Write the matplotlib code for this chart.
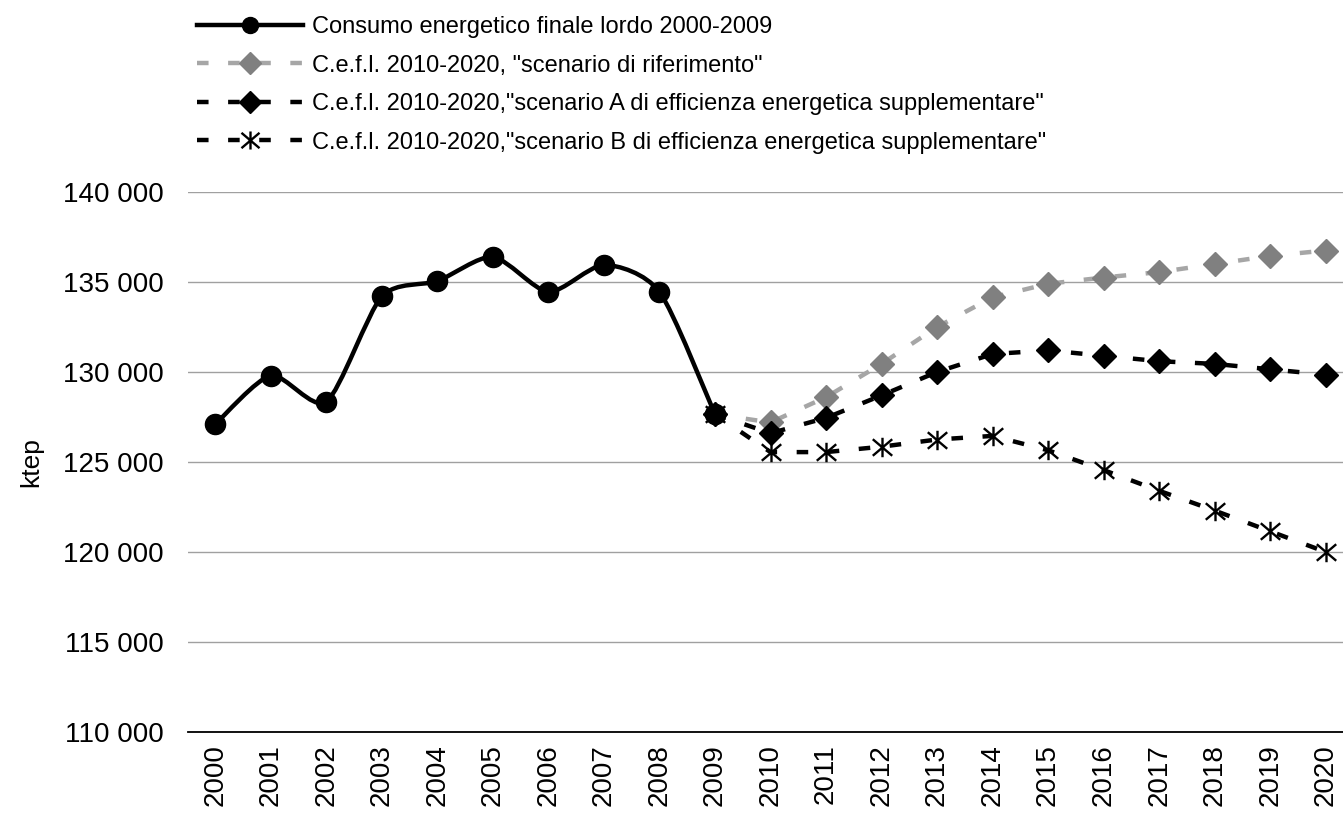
import numpy as np
import matplotlib
matplotlib.use('Agg')
import matplotlib.pyplot as plt
from matplotlib.path import Path
from matplotlib.patches import PathPatch
from matplotlib.lines import Line2D
from matplotlib.ticker import FuncFormatter

plt.rcParams['font.family'] = ['Liberation Sans', 'DejaVu Sans']

# Dati (ktep)
anni = [str(a) for a in range(2000, 2021)]
anni_storici = list(range(2000, 2010))
consumo_storico = [127100, 129800, 128350, 134200, 135050, 136400, 134450, 135950, 134450, 127650]

anni_scenari = list(range(2009, 2021))
scenario_rif = [127650, 127200, 128600, 130450, 132500, 134150, 134900, 135250, 135550, 136000, 136450, 136750]
scenario_a = [127650, 126600, 127450, 128700, 130000, 131000, 131200, 130900, 130600, 130450, 130150, 129850]
scenario_b = [127650, 125550, 125550, 125850, 126250, 126450, 125650, 124550, 123400, 122300, 121150, 120000]

etichette = [
    'Consumo energetico finale lordo 2000-2009',
    'C.e.f.l. 2010-2020, "scenario di riferimento"',
    'C.e.f.l. 2010-2020,"scenario A di efficienza energetica supplementare"',
    'C.e.f.l. 2010-2020,"scenario B di efficienza energetica supplementare"',
]

GRIGIO_LINEA = '#A6A6A6'
GRIGIO_MARKER = '#808080'
tratteggio = (0, (2.6, 4.4))

# marker "stella" stile Excel: una X con una barra verticale
stella = Path([(-1, -0.85), (1, 0.85), (-1, 0.85), (1, -0.85), (0, -1), (0, 1)],
              [Path.MOVETO, Path.LINETO, Path.MOVETO, Path.LINETO, Path.MOVETO, Path.LINETO])


def linea_smussata(ax, x, y, **kw):
    # curva Catmull-Rom (tensione ridotta) come la linea smussata di Excel
    pts = np.column_stack([x, y]).astype(float)
    n = len(pts)
    verts = [pts[0]]
    codes = [Path.MOVETO]
    for i in range(n - 1):
        p0 = pts[max(i - 1, 0)]
        p1 = pts[i]
        p2 = pts[i + 1]
        p3 = pts[min(i + 2, n - 1)]
        verts += [p1 + (p2 - p0) / 8, p2 - (p3 - p1) / 8, p2]
        codes += [Path.CURVE4] * 3
    patch = PathPatch(Path(verts, codes), facecolor='none', **kw)
    ax.add_patch(patch)


fig = plt.figure(figsize=(13.43, 8.15), dpi=100)
ax = fig.add_axes([187.5 / 1343, 83 / 815, 1166 / 1343, 540 / 815])

pos = {a: i for i, a in enumerate(range(2000, 2021))}
xs_st = [pos[a] for a in anni_storici]
xs_sc = [pos[a] for a in anni_scenari]

# scenari tratteggiati
ax.plot(xs_sc, scenario_rif, color=GRIGIO_LINEA, lw=3.2, linestyle=tratteggio,
        marker='D', ms=12, mfc=GRIGIO_MARKER, mec=GRIGIO_MARKER, zorder=3)
ax.plot(xs_sc, scenario_a, color='black', lw=3.2, linestyle=tratteggio,
        marker='D', ms=12, mfc='black', mec='black', zorder=4)
ax.plot(xs_sc, scenario_b, color='black', lw=3.2, linestyle=tratteggio,
        marker=stella, ms=14, mfc='none', mec='black', mew=1.7, zorder=5)

# serie storica smussata
linea_smussata(ax, xs_st, consumo_storico, edgecolor='black', lw=3.2, zorder=6,
               capstyle='round', joinstyle='round')
ax.plot(xs_st, consumo_storico, linestyle='none', marker='o', ms=14.5,
        color='black', zorder=7)

ax.set_xlim(-0.5, 20.5)
ax.set_ylim(110000, 140000)
ax.set_yticks(range(110000, 140001, 5000))
ax.yaxis.set_major_formatter(FuncFormatter(lambda v, p: f'{v:,.0f}'.replace(',', ' ')))
ax.set_xticks(range(len(anni)))
ax.set_xticklabels(anni, rotation=90)
ax.tick_params(axis='both', length=0, labelsize=20)
ax.tick_params(axis='y', pad=17)
ax.tick_params(axis='x', pad=9)
ax.grid(axis='y', color='#A0A0A0', lw=1)
ax.set_axisbelow(True)
for lato in ['top', 'right', 'left']:
    ax.spines[lato].set_visible(False)
ax.spines['bottom'].set_color('black')
ax.spines['bottom'].set_linewidth(1.3)
ax.set_ylabel('ktep', fontsize=19, labelpad=14)

# legenda
maniglie = [
    Line2D([], [], color='black', lw=3.2, marker='o', ms=11.5),
    Line2D([], [], color=GRIGIO_LINEA, lw=3.2, linestyle=tratteggio, marker='D', ms=11,
           mfc=GRIGIO_MARKER, mec=GRIGIO_MARKER),
    Line2D([], [], color='black', lw=3.2, linestyle=tratteggio, marker='D', ms=11),
    Line2D([], [], color='black', lw=3.2, linestyle=tratteggio, marker=stella, ms=13,
           mfc='none', mec='black', mew=1.7),
]
fig.legend(maniglie, etichette, loc='upper left', bbox_to_anchor=(197 / 1343, 1 - 16 / 815),
           frameon=False, fontsize=17, handlelength=4.5, handletextpad=0.35,
           labelspacing=0.7, borderpad=0, borderaxespad=0)

fig.savefig('out.png', dpi=100)
